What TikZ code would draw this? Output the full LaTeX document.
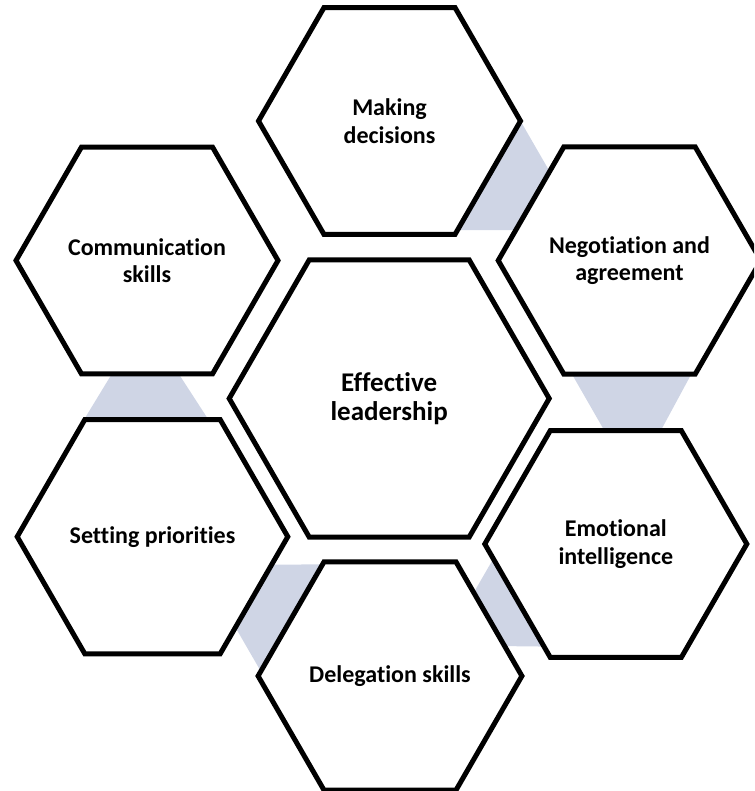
\documentclass[tikz,border=0pt]{standalone}
\usepackage{fontspec}
\setmainfont{Carlito}[Ligatures=NoCommon]
\usepackage{tikz}
\usetikzlibrary{shapes.geometric,calc,backgrounds}

\definecolor{linkblue}{RGB}{207,213,229}

\begin{document}
\begin{tikzpicture}[x=1pt, y=1pt,
	hexa/.style={regular polygon, regular polygon sides=6, draw=black, line width=5pt,
		fill=white, minimum size=262pt, inner sep=0pt, outer sep=0pt, align=center,
		font=\fontsize{24}{27.5}\selectfont\bfseries},
	bighexa/.style={hexa, minimum size=320pt, font=\fontsize{27}{29}\selectfont\bfseries},
	link/.style={fill=linkblue}]
		\useasboundingbox (0,0) rectangle (754,-791);
		\clip (0,0) rectangle (754,-791);

		\node[bighexa] (el) at (389.2,-398.5) {Effective\\leadership};
		\node[hexa] (md) at (389.5,-121) {Making\\decisions};
		\node[hexa] (ng) at (629.5,-260.5) {Negotiation and\\agreement};
		\node[hexa] (em) at (615.8,-544) {Emotional\\intelligence};
		\node[hexa] (dl) at (390,-676) {Delegation skills};
		\node[hexa] (sp) at (152.5,-536.7) {Setting priorities};
		\node[hexa] (cs) at (147,-260.5) {Communication\\skills};

		\begin{scope}[on background layer]
			\fill[link] (md.corner 6) -- ++(60,-103.9) -- ($(md.corner 5)+(125,4.4)$)
				-- ($(md.corner 5)+(-10,4.4)$) -- cycle;
			\fill[link] ($(ng.corner 4)+(8.1,0)$) -- ($(ng.corner 5)+(-3.9,0)$)
				-- ($(em.corner 1)+(-20.5,0)$) -- ($(em.corner 2)+(54,0)$) -- cycle;
			\fill[link] ($(em.corner 3)+(17,0)$) -- ++(240:65)
				-- ($(dl.corner 1)+(20,-84)$) -- ($(em.corner 4)+(10,10.7)$) -- cycle;
			\fill[link] ($(dl.corner 3)+(5.4,0)$) -- ++(120:76)
				-- ($(sp.corner 6)+(-45,-28.3)$) -- ($(dl.corner 2)+(15,-2.4)$) -- cycle;
			\fill[link] ($(cs.corner 4)+(30.3,0)$) -- ($(cs.corner 5)+(-33.7,0)$)
				-- ($(sp.corner 1)+(-11.8,0)$) -- ($(sp.corner 2)+(-0.8,0)$) -- cycle;
		\end{scope}
	\end{tikzpicture}
\end{document}
